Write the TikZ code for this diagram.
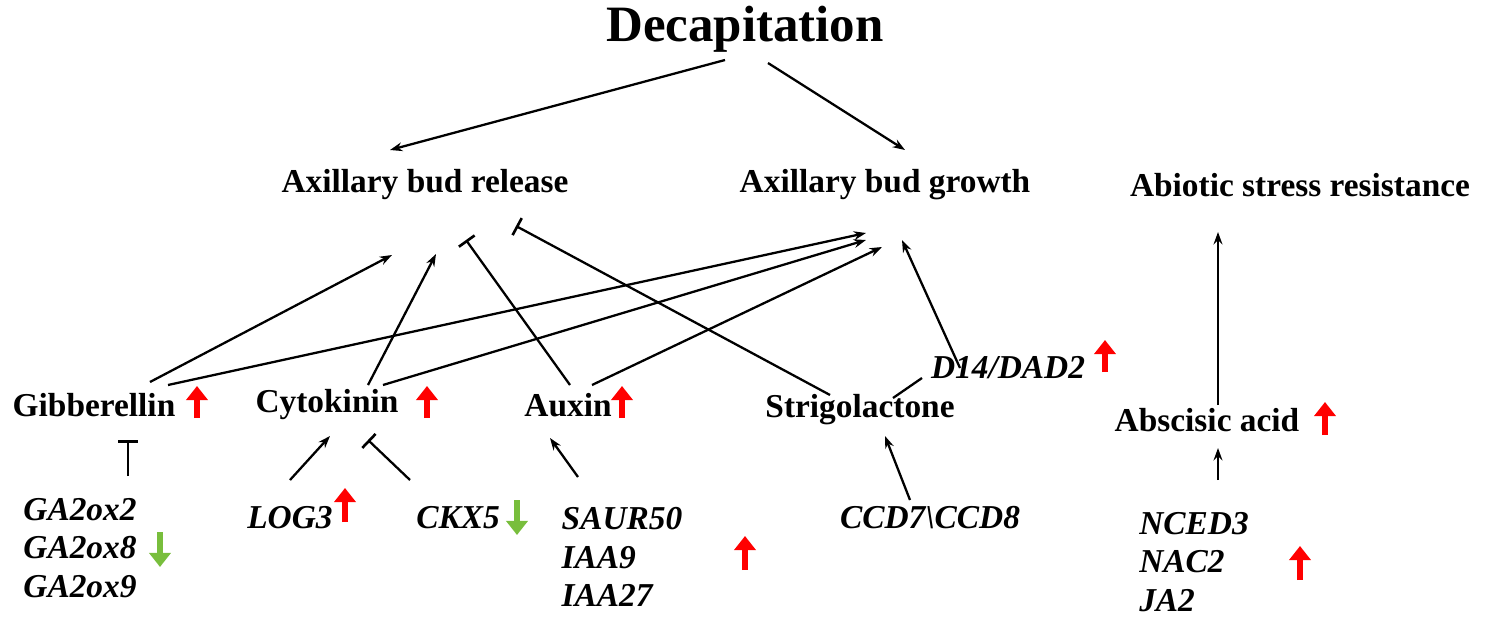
\documentclass[tikz,border=0pt]{standalone}
\usepackage{fontspec}
\setmainfont{Liberation Serif}
\usetikzlibrary{arrows.meta}
\definecolor{lgreen}{RGB}{120,190,60}
\begin{document}
\begin{tikzpicture}[x=0.02cm,y=-0.02cm,
  lbl/.style={font=\bfseries\fontsize{19}{19}\selectfont, inner sep=1pt},
  gene/.style={font=\bfseries\itshape\fontsize{19}{22}\selectfont, inner sep=1pt, align=left},
  act/.style={-{Stealth[length=7pt,width=5pt]}, line width=1.3pt},
  inh/.style={-{Bar[width=11pt,line width=1.5pt]}, line width=1.3pt},
  pl/.style={line width=1.3pt},
  up/.style={-{Triangle[length=8pt,width=12pt]}, line width=3.5pt, red},
  down/.style={-{Triangle[length=8pt,width=12pt]}, line width=3.5pt, lgreen}]
\useasboundingbox (0,0) rectangle (1489,622);
\node[font=\bfseries\fontsize{29}{29}\selectfont] (dec) at (745,29) {Decapitation};
\node[lbl] (rel) at (425,185) {Axillary bud release};
\node[lbl] (gro) at (885,185) {Axillary bud growth};
\node[lbl] (abi) at (1300,185) {Abiotic stress resistance};
\node[lbl] (gib) at (94,405) {Gibberellin};
\node[lbl] (cyt) at (327,405) {Cytokinin};
\node[lbl] (aux) at (568,405) {Auxin};
\node[lbl] (str) at (860,410) {Strigolactone};
\node[gene] (d14) at (1008,368) {D14/DAD2};
\node[lbl] (aba) at (1207,420) {Abscisic acid};
\node[gene] (ga) at (80,548) {GA2ox2\\GA2ox8\\GA2ox9};
\node[gene] (log) at (290,518) {LOG3};
\node[gene] (ckx) at (458,518) {CKX5};
\node[gene] (saur) at (622,557) {SAUR50\\IAA9\\IAA27};
\node[gene] (ccd) at (930,518) {CCD7\textbackslash CCD8};
\node[gene] (nced) at (1194,562) {NCED3\\NAC2\\JA2};
% connectors
\draw[act] (725,60) -- (390,150);
\draw[act] (768,63) -- (905,150);
\draw[act] (150,382) -- (392,255);
\draw[act] (168,385) -- (866,233);
\draw[act] (368,385) -- (436,254);
\draw[act] (383,385) -- (866,240);
\draw[inh] (570,385) -- (466,240);
\draw[act] (592,385) -- (882,247);
\draw[inh] (830,395) -- (516,226);
\draw[act] (960,368) -- (902,240);
\draw[pl] (922,378) -- (893,398);
\draw[act] (1218,405) -- (1218,232);
\draw[inh] (128,476) -- (128,440);
\draw[act] (290,480) -- (330,436);
\draw[inh] (410,480) -- (368,440);
\draw[act] (578,477) -- (550,438);
\draw[act] (910,500) -- (885,436);
\draw[act] (1218,480) -- (1218,448);
% up/down arrows
\draw[up] (197,418) -- (197,386);
\draw[up] (427,418) -- (427,386);
\draw[up] (622,418) -- (622,386);
\draw[up] (1105,372) -- (1105,340);
\draw[up] (1325,435) -- (1325,402);
\draw[up] (345,522) -- (345,488);
\draw[up] (745,570) -- (745,536);
\draw[up] (1300,580) -- (1300,546);
\draw[down] (160,532) -- (160,567);
\draw[down] (517,500) -- (517,535);
\end{tikzpicture}
\end{document}
